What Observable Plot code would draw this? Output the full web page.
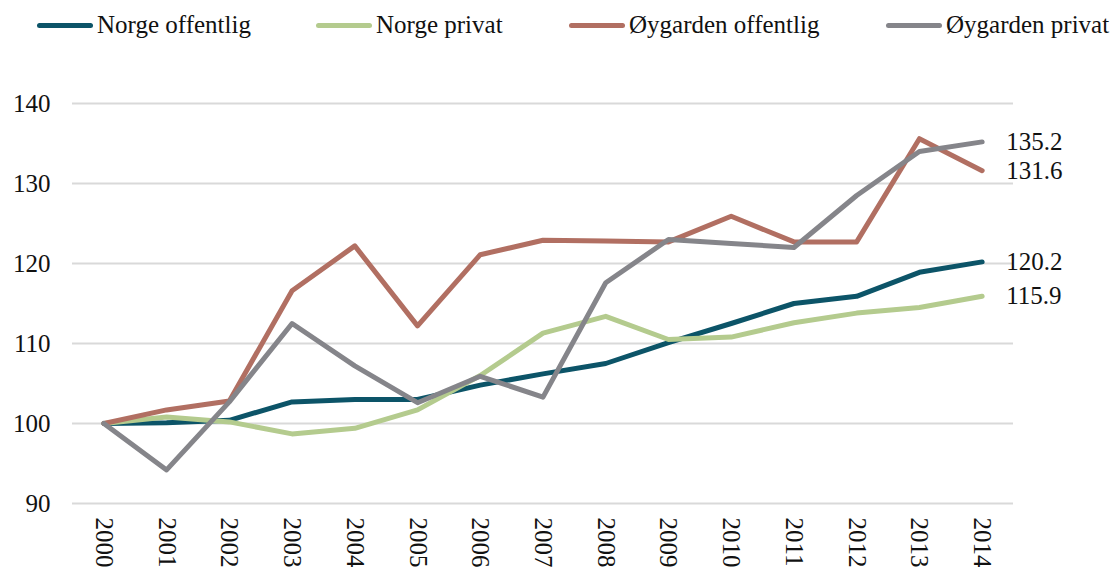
<!DOCTYPE html>
<html>
<head>
<meta charset="utf-8">
<script src="https://cdn.jsdelivr.net/npm/d3@7"></script>
<script src="https://cdn.jsdelivr.net/npm/@observablehq/plot@0.6"></script>
<style>
  body { margin: 0; background: #fff; font-family: "Liberation Serif", "Times New Roman", serif; }
  #legend { position: relative; height: 50px; width: 1112px; }
  .item { position: absolute; top: 8px; height: 34px; line-height: 34px; display: flex; align-items: center; font-size: 25px; color: #111; white-space: nowrap; }
  .sw { width: 56px; height: 5px; border-radius: 3px; margin-right: 4px; }
</style>
</head>
<body>
<div id="legend"></div>
<div id="chart"></div>
<script>
const years = ["2000","2001","2002","2003","2004","2005","2006","2007","2008","2009","2010","2011","2012","2013","2014"];
const seriesNames = ["Norge offentlig", "Norge privat", "Øygarden offentlig", "Øygarden privat"];
const seriesColors = ["#0c5468", "#b4cb8e", "#b16f62", "#85858a"];
const norgeOffentlig    = [100, 100.1, 100.4, 102.7, 103.0, 103.0, 104.8, 106.2, 107.5, 110.1, 112.5, 115.0, 115.9, 118.9, 120.2];
const norgePrivat       = [100, 100.8, 100.2, 98.7, 99.4, 101.7, 106.0, 111.3, 113.4, 110.5, 110.8, 112.6, 113.8, 114.5, 115.9];
const oygardenOffentlig = [100, 101.7, 102.8, 116.6, 122.2, 112.2, 121.1, 122.9, 122.8, 122.7, 125.9, 122.7, 122.7, 135.6, 131.6];
const oygardenPrivat    = [100, 94.2, 102.7, 112.5, 107.2, 102.6, 105.9, 103.3, 117.6, 123.0, 122.5, 122.0, 128.5, 134.0, 135.2];
const yTicks = [90, 100, 110, 120, 130, 140];

const seriesValues = [norgeOffentlig, norgePrivat, oygardenOffentlig, oygardenPrivat];
const data = seriesNames.flatMap((name, s) =>
  years.map((year, i) => ({series: name, year, value: seriesValues[s][i]})));
const last = data.filter(d => d.year === years[years.length - 1]);

// Legend
const legendLeft = [37, 316, 569, 886];
const legend = document.getElementById("legend");
seriesNames.forEach((name, i) => {
  const item = document.createElement("div");
  item.className = "item";
  item.style.left = legendLeft[i] + "px";
  const sw = document.createElement("span");
  sw.className = "sw";
  sw.style.background = seriesColors[i];
  const label = document.createElement("span");
  label.textContent = name;
  item.append(sw, label);
  legend.append(item);
});

const chart = Plot.plot({
  width: 1112,
  height: 520,
  marginTop: 53,
  marginBottom: 67,
  marginLeft: 72,
  marginRight: 99,
  style: {fontFamily: '"Liberation Serif", "Times New Roman", serif', fontSize: "25px", color: "#111", background: "#fff"},
  x: {type: "point", domain: years, padding: 0.5, round: false},
  y: {domain: [90, 140]},
  color: {domain: seriesNames, range: seriesColors},
  marks: [
    Plot.gridY(yTicks, {stroke: "#d9d9d9", strokeOpacity: 1, strokeWidth: 2}),
    Plot.axisY(yTicks, {tickSize: 0, tickPadding: 22, label: null, fontSize: 25}),
    Plot.axisX({tickSize: 0, tickPadding: 14, tickRotate: 90, label: null, fontSize: 25}),
    Plot.line(data, {x: "year", y: "value", z: "series", stroke: "series", strokeWidth: 5, strokeLinecap: "round", strokeLinejoin: "round"}),
    Plot.text(last, {x: "year", y: "value", text: d => d.value.toFixed(1), dx: 24, textAnchor: "start", fontSize: 25, fill: "#111"})
  ]
});
document.getElementById("chart").append(chart);
</script>
</body>
</html>
